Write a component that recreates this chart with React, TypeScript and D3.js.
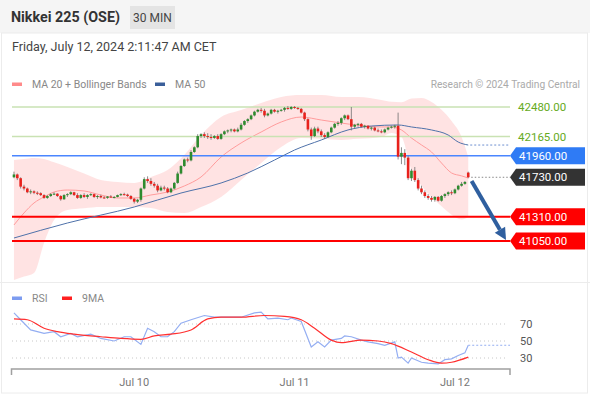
import React from "react";
import * as d3 from "d3";

// 30 min candles, Jul 9 06:00 -> Jul 12 02:00 CET
const opens = [
  41730, 41760, 41720, 41630, 41610, 41570, 41580, 41565, 41560, 41540, 41510, 41530, 41550, 41555, 41530, 41495, 41540, 41550, 41570, 41540,
  41510, 41540, 41520, 41540, 41550, 41520, 41530, 41515, 41510, 41525, 41515, 41520, 41540, 41550, 41545, 41530, 41500, 41470, 41490, 41610,
  41710, 41690, 41660, 41640, 41590, 41620, 41610, 41570, 41610, 41670, 41770, 41850, 41920, 41910, 42000, 42050, 42170, 42190, 42170, 42160,
  42150, 42170, 42140, 42190, 42220, 42230, 42240, 42220, 42240, 42290, 42330, 42350, 42390, 42430, 42450, 42440, 42390, 42410, 42450, 42430,
  42440, 42450, 42470, 42460, 42480, 42470, 42460, 42420, 42350, 42240, 42170, 42250, 42220, 42180, 42160, 42210, 42260, 42300, 42310, 42360,
  42390, 42350, 42270, 42290, 42300, 42270, 42280, 42250, 42260, 42230, 42220, 42210, 42240, 42260, 42270, 42280, 41950, 41990, 41940, 41720,
  41800, 41700, 41610, 41570, 41530, 41510, 41490, 41520, 41480, 41530, 41550, 41570, 41560, 41600, 41640, 41660, 41780,
];
const highs = [
  41790, 41770, 41730, 41650, 41620, 41600, 41590, 41580, 41570, 41550, 41540, 41560, 41570, 41560, 41540, 41550, 41560, 41580, 41575, 41560,
  41550, 41560, 41550, 41560, 41555, 41540, 41545, 41530, 41530, 41540, 41530, 41545, 41560, 41565, 41555, 41540, 41510, 41500, 41620, 41730,
  41740, 41720, 41680, 41660, 41640, 41640, 41625, 41620, 41680, 41790, 41860, 41930, 41940, 42020, 42060, 42190, 42200, 42210, 42200, 42190,
  42180, 42190, 42200, 42230, 42240, 42250, 42250, 42260, 42310, 42340, 42360, 42400, 42440, 42460, 42470, 42460, 42420, 42460, 42460, 42450,
  42460, 42480, 42490, 42490, 42490, 42480, 42470, 42430, 42360, 42260, 42270, 42270, 42240, 42200, 42220, 42270, 42310, 42330, 42370, 42400,
  42400, 42480, 42300, 42310, 42310, 42290, 42285, 42270, 42270, 42250, 42240, 42250, 42270, 42280, 42290, 42420, 42050, 42030, 41960, 41820,
  41840, 41720, 41640, 41590, 41550, 41530, 41530, 41530, 41540, 41560, 41580, 41590, 41610, 41650, 41680, 41690, 41790,
];
const lows = [
  41720, 41700, 41610, 41590, 41560, 41550, 41550, 41540, 41530, 41500, 41500, 41520, 41540, 41520, 41480, 41490, 41520, 41540, 41530, 41500,
  41500, 41510, 41500, 41530, 41510, 41500, 41505, 41500, 41500, 41510, 41505, 41515, 41530, 41535, 41520, 41490, 41450, 41455, 41470, 41600,
  41670, 41640, 41620, 41570, 41580, 41590, 41560, 41560, 41600, 41660, 41760, 41840, 41890, 41900, 41990, 42040, 42150, 42150, 42140, 42130,
  42140, 42130, 42130, 42180, 42200, 42210, 42210, 42210, 42230, 42280, 42310, 42340, 42380, 42420, 42420, 42370, 42380, 42400, 42420, 42410,
  42430, 42430, 42450, 42450, 42460, 42450, 42410, 42330, 42220, 42130, 42160, 42200, 42160, 42140, 42150, 42200, 42250, 42280, 42290, 42340,
  42340, 42230, 42250, 42270, 42260, 42250, 42240, 42230, 42220, 42210, 42200, 42200, 42230, 42250, 42250, 41920, 41870, 41860, 41700, 41690,
  41680, 41590, 41550, 41510, 41490, 41470, 41470, 41470, 41470, 41510, 41530, 41540, 41550, 41590, 41630, 41650, 41720,
];
const closes = [
  41760, 41720, 41630, 41610, 41570, 41580, 41565, 41560, 41540, 41510, 41530, 41550, 41555, 41530, 41495, 41540, 41550, 41570, 41540, 41510,
  41540, 41520, 41540, 41550, 41520, 41530, 41515, 41510, 41525, 41515, 41520, 41540, 41550, 41545, 41530, 41500, 41470, 41490, 41610, 41710,
  41690, 41660, 41640, 41590, 41620, 41610, 41570, 41610, 41670, 41770, 41850, 41920, 41910, 42000, 42050, 42170, 42190, 42170, 42160, 42150,
  42170, 42140, 42190, 42220, 42230, 42240, 42220, 42240, 42290, 42330, 42350, 42390, 42430, 42450, 42440, 42390, 42410, 42450, 42430, 42440,
  42450, 42470, 42460, 42480, 42470, 42460, 42420, 42350, 42240, 42170, 42250, 42220, 42180, 42160, 42210, 42260, 42300, 42310, 42360, 42390,
  42350, 42270, 42290, 42300, 42270, 42280, 42250, 42260, 42230, 42220, 42210, 42240, 42260, 42270, 42280, 41950, 41990, 41940, 41720, 41800,
  41700, 41610, 41570, 41530, 41510, 41490, 41520, 41480, 41530, 41550, 41570, 41560, 41600, 41640, 41660, 41680, 41730,
];

const dayLabels = ["Jul 10", "Jul 11", "Jul 12"];
const dayIndex = [36, 84, 132];

// MA 20 + Bollinger Bands
const bandIdx = [0, 3, 6, 9, 12, 16, 21, 26, 31, 36, 41, 46, 51, 56, 62, 68, 74, 80, 86, 92, 98, 103, 110, 113, 116, 119, 122, 125, 128, 131, 134, 136];
const bandUpper = [
  41914, 41925, 41936, 41925, 41890, 41840, 41770, 41701, 41680, 41669, 41733, 41808, 41968, 42181, 42373, 42448,
  42523, 42587, 42608, 42608, 42587, 42587, 42555, 42535, 42530, 42570, 42576, 42533, 42450, 42330, 42160, 41946,
];
const bandLower = [
  40634, 40670, 40709, 41029, 41274, 41381, 41400, 41413, 41413, 41413, 41402, 41360, 41349, 41413, 41520, 41701,
  41882, 42053, 42149, 42140, 42128, 42140, 42160, 42203, 42160, 41808, 41640, 41520, 41420, 41330, 41280, 41306,
];
const ma20 = [
  41221, 41349, 41456, 41520, 41573, 41594, 41584, 41541, 41509, 41509, 41541, 41573, 41637, 41733, 41946, 42096,
  42213, 42320, 42373, 42341, 42309, 42285, 42267, 42267, 42235, 42149, 42075, 42000, 41882, 41776, 41745, 41722,
];

const ma50Idx = [0, 16, 36, 50, 62, 70, 78, 84, 92, 100, 107, 115, 119, 125, 130, 133, 136];
const ma50 = [41082, 41242, 41413, 41562, 41669, 41776, 41914, 42021, 42128, 42235, 42277, 42288, 42267, 42235, 42181, 42106, 42074];

const resistances = [42480, 42165];
const pivot = 41960;
const lastPrice = 41730;
const supports = [41310, 41050];

const rsiIdx = [
  0, 2, 5, 9, 12, 14, 17, 19, 23, 26, 30, 33, 35, 38, 40, 42, 44, 46, 48, 50, 53, 57, 60, 64, 68, 72, 74, 76, 79, 82, 83,
  86, 87, 89, 91, 93, 95, 98, 99, 101, 104, 106, 109, 111, 114, 115, 116, 118, 119, 122, 124, 127, 129, 131, 133, 135, 136,
];
const rsiVals = [
  83, 75, 63, 59, 61, 55, 59, 55, 58, 53, 50, 55, 55, 46, 65, 61, 55, 55, 61, 71, 75, 80, 78, 78, 78, 83, 84, 76, 77, 75, 77,
  73, 63, 43, 49, 43, 51, 53, 56, 55, 51, 49, 47, 45, 49, 30, 31, 24, 30, 25, 24, 23, 28, 29, 33, 36, 45,
];
const rsiMaIdx = [0, 4, 9, 13, 18, 26, 32, 38, 42, 47, 53, 58, 62, 68, 75, 81, 86, 90, 95, 98, 104, 109, 113, 119, 124, 128, 131, 136];
const rsiMaVals = [76, 75, 65, 61, 58, 55, 53, 52, 56, 58, 63, 76, 78, 78, 80, 79, 75, 65, 51, 48, 51, 50, 47, 37, 28, 24, 25, 31];
const rsiLevels = [70, 50, 30];

const FONT = "Roboto, 'Liberation Sans', Arial, sans-serif";

export default function App() {
  const W = 590;
  const H = 394;
  const x = d3.scaleLinear().domain([-0.5, 148.5]).range([12.3, 510]);
  const y = d3.scaleLinear().domain([41050, 42480]).range([241, 107]);
  const ry = d3.scaleLinear().domain([30, 70]).range([358, 324]);
  const plotRight = 510;

  const bandArea = d3
    .area<number>()
    .x((d) => x(bandIdx[d]))
    .y0((d) => y(bandLower[d]))
    .y1((d) => y(bandUpper[d]))
    .curve(d3.curveMonotoneX);
  const ma20Line = d3
    .line<number>()
    .x((d) => x(bandIdx[d]))
    .y((d) => y(ma20[d]))
    .curve(d3.curveMonotoneX);
  const ma50Line = d3
    .line<number>()
    .x((d) => x(ma50Idx[d]))
    .y((d) => y(ma50[d]))
    .curve(d3.curveMonotoneX);
  const rsiLine = d3
    .line<number>()
    .x((d) => x(rsiIdx[d]))
    .y((d) => ry(rsiVals[d]));
  const rsiMaLine = d3
    .line<number>()
    .x((d) => x(rsiMaIdx[d]))
    .y((d) => ry(rsiMaVals[d]))
    .curve(d3.curveMonotoneX);

  const last = closes.length - 1;
  const bodyW = 2.6;

  // forecast arrow
  const ax0 = x(last + 1);
  const ay0 = y(lastPrice - 40);
  const ax1 = x(147.3);
  const ay1 = y(supports[1] + 10);
  const ang = Math.atan2(ay1 - ay0, ax1 - ax0);
  const head = 12;
  const hw = 6;
  const bx = ax1 - head * Math.cos(ang);
  const by = ay1 - head * Math.sin(ang);
  const headPts = [
    [ax1, ay1],
    [bx + hw * Math.sin(ang), by - hw * Math.cos(ang)],
    [bx - hw * Math.sin(ang), by + hw * Math.cos(ang)],
  ]
    .map((p) => p.join(","))
    .join(" ");

  const tag = (price: number, fill: string) => {
    const yc = y(price);
    return (
      <g key={"tag" + price}>
        <path d={`M${plotRight},${yc} L${plotRight + 6},${yc - 8.5} L585,${yc - 8.5} L585,${yc + 8.5} L${plotRight + 6},${yc + 8.5} Z`} fill={fill} />
        <text x={plotRight + 9} y={yc + 4} fill="#fff" fontSize={11.5}>
          {price.toFixed(2)}
        </text>
      </g>
    );
  };

  return (
    <svg width={W} height={H} style={{ position: "absolute", left: 0, top: 0, fontFamily: FONT }}>
      <rect x={0} y={0} width={W} height={H} fill="#fff" />
      {/* header */}
      <rect x={0} y={0} width={W} height={33} fill="#f5f5f5" />
      <text x={11} y={22} fontSize={14.3} fontWeight="bold" fill="#333">
        Nikkei 225 (OSE)
      </text>
      <rect x={130} y={6} width={45} height={23} fill="#e4e4e4" />
      <text x={152.5} y={22} fontSize={12} fill="#444" textAnchor="middle">
        30 MIN
      </text>
      <text x={12} y={51} fontSize={12.5} fill="#444">
        Friday, July 12, 2024 2:11:47 AM CET
      </text>
      <rect x={1.5} y={33} width={586} height={360} fill="none" stroke="#ececec" />

      {/* legend */}
      <rect x={12} y={82.5} width={10} height={3.5} fill="#ff8a8a" />
      <text x={32} y={88} fontSize={10.5} fill="#888">
        MA 20 + Bollinger Bands
      </text>
      <rect x={155} y={82.5} width={10} height={3.5} fill="#3a5f9a" />
      <text x={175} y={88} fontSize={10.5} fill="#888">
        MA 50
      </text>
      <text x={580} y={88} fontSize={10.2} fill="#aaa" textAnchor="end">
        Research © 2024 Trading Central
      </text>

      {/* bands */}
      <path d={bandArea(d3.range(bandIdx.length)) || ""} fill="#ffdede" opacity={0.85} />
      <path d={ma20Line(d3.range(bandIdx.length)) || ""} fill="none" stroke="#ff9c9c" strokeWidth={1} />

      {/* key levels */}
      {resistances.map((r) => (
        <g key={"r" + r}>
          <line x1={12} x2={plotRight} y1={y(r)} y2={y(r)} stroke="#c9e2b3" strokeWidth={1.5} />
          <text x={518} y={y(r) + 4} fontSize={11.5} fill="#66aa22">
            {r.toFixed(2)}
          </text>
        </g>
      ))}
      <line x1={12} x2={plotRight} y1={y(pivot)} y2={y(pivot)} stroke="#4a86ff" strokeWidth={1.5} />
      {supports.map((s) => (
        <line key={"s" + s} x1={12} x2={plotRight} y1={y(s)} y2={y(s)} stroke="#ff0000" strokeWidth={2} />
      ))}

      {/* MA 50 */}
      <path d={ma50Line(d3.range(ma50Idx.length)) || ""} fill="none" stroke="#4f72aa" strokeWidth={1} />
      <line
        x1={x(last) + 2}
        x2={plotRight}
        y1={y(ma50[ma50.length - 1])}
        y2={y(ma50[ma50.length - 1])}
        stroke="#6d8fd0"
        strokeDasharray="2,2"
      />
      <line x1={x(last) + 3} x2={plotRight} y1={y(lastPrice)} y2={y(lastPrice)} stroke="#888" strokeDasharray="1.5,2" />

      {/* candles */}
      {closes.map((c, i) => {
        const o = opens[i];
        const up = c >= o;
        const col = up ? "#2e8b2e" : "#e8211c";
        const top = y(Math.max(o, c));
        const h = Math.max(1, Math.abs(y(o) - y(c)));
        return (
          <g key={i}>
            <line x1={x(i)} x2={x(i)} y1={y(highs[i])} y2={y(lows[i])} stroke="#6f6f6f" strokeWidth={0.8} />
            <rect x={x(i) - bodyW / 2} y={top} width={bodyW} height={h} fill={col} />
          </g>
        );
      })}

      {/* forecast arrow */}
      <line x1={ax0} y1={ay0} x2={bx} y2={by} stroke="#2f5f9f" strokeWidth={4} />
      <polygon points={headPts} fill="#2f5f9f" />

      {/* tags */}
      {tag(pivot, "#2f7bf5")}
      {tag(lastPrice, "#333")}
      {supports.map((s) => tag(s, "#ff0000"))}

      {/* RSI panel */}
      <line x1={0} x2={W} y1={282.5} y2={282.5} stroke="#ececec" />
      <rect x={12} y={296.5} width={10} height={3.5} fill="#7d9cf0" />
      <text x={32} y={302} fontSize={10.5} fill="#888">
        RSI
      </text>
      <rect x={62} y={296.5} width={10} height={3.5} fill="#ff2020" />
      <text x={82} y={302} fontSize={10.5} fill="#888">
        9MA
      </text>
      {rsiLevels.map((l) => (
        <g key={"l" + l}>
          <line x1={12} x2={508} y1={ry(l)} y2={ry(l)} stroke="#c8c8c8" strokeDasharray="1,3" />
          <text x={520} y={ry(l) + 4} fontSize={11} fill="#555">
            {l}
          </text>
        </g>
      ))}
      <path d={rsiLine(d3.range(rsiIdx.length)) || ""} fill="none" stroke="#94aef2" strokeWidth={1.2} />
      <line
        x1={x(last)}
        x2={plotRight}
        y1={ry(rsiVals[rsiVals.length - 1])}
        y2={ry(rsiVals[rsiVals.length - 1])}
        stroke="#94aef2"
        strokeDasharray="2,2"
      />
      <path d={rsiMaLine(d3.range(rsiMaIdx.length)) || ""} fill="none" stroke="#ff3030" strokeWidth={1.2} />

      {/* x axis */}
      <path d={`M11.5,375 V369 H${plotRight} V375`} fill="none" stroke="#a0a0a0" strokeWidth={1.5} />
      {dayIndex.map((d, k) => (
        <text key={d} x={x(d)} y={386} fontSize={11} fill="#777" textAnchor="middle">
          {dayLabels[k]}
        </text>
      ))}
    </svg>
  );
}
